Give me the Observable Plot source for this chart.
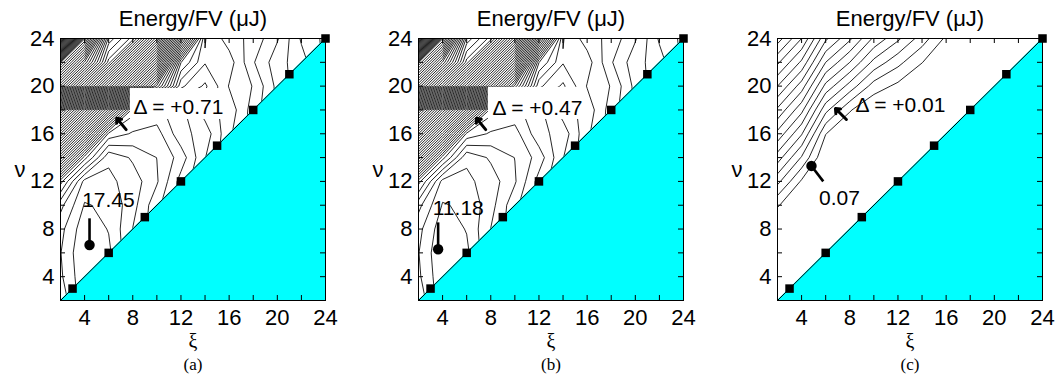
<!DOCTYPE html>
<html>
<head>
<meta charset="utf-8">
<script src="https://cdn.jsdelivr.net/npm/d3@7"></script>
<script src="https://cdn.jsdelivr.net/npm/@observablehq/plot@0.6"></script>
<style>
  body { margin: 0; background: #fff; }
  #wrap { position: relative; width: 1055px; height: 385px; overflow: hidden; background: #fff; }
</style>
</head>
<body>
<div id="wrap"></div>
<script>
// ---- data ----
const gridXi = [2, 4, 6, 8, 10, 12, 14, 16, 18, 20, 22, 24];   // grid columns (ξ)
const gridNu = [24, 22, 20, 18, 16, 14, 12, 10, 8, 6, 4, 2];   // grid rows (ν), top row first

// Energy/FV (μJ) estimated on the grid, panel (a)
const energyA = [
  81.6, 63, 52, 49.8, 43.2, 32.6, 23.8, 24.9, 25.5, 26.6, 28.2, 29.0,
  63, 56.4, 49.8, 43.2, 36.6, 26, 23.9, 24.2, 25.9, 27.1, 27.8, 29.0,
  56.4, 49.8, 43.2, 36.6, 30, 24, 23.0, 24.6, 25.3, 26.9, 27.9, 29.0,
  41.8, 35.2, 28.6, 22, 21.5, 22.2, 23.5, 24.1, 25.6, 26.8, 27.9, 29.0,
  35.2, 28.6, 21.5, 20.9, 20.7, 22.2, 22.7, 24.4, 25.6, 26.8, 27.9, 29.0,
  28.6, 22, 19.0, 19.7, 20.3, 21.3, 23.1, 24.4, 25.6, 26.8, 27.9, 29.0,
  22, 18.6, 18.7, 19.2, 20.2, 22.0, 23.1, 24.4, 25.6, 26.8, 27.9, 29.0,
  19.8, 18.1, 18.3, 19.3, 20.8, 22.0, 23.1, 24.4, 25.6, 26.8, 27.9, 29.0,
  19.1, 17.7, 18.2, 19.6, 20.8, 22.0, 23.1, 24.4, 25.6, 26.8, 27.9, 29.0,
  18.9, 17.5, 18.0, 19.6, 20.8, 22.0, 23.1, 24.4, 25.6, 26.8, 27.9, 29.0,
  19.0, 17.6, 18.0, 19.6, 20.8, 22.0, 23.1, 24.4, 25.6, 26.8, 27.9, 29.0,
  19.4, 17.6, 18.0, 19.6, 20.8, 22.0, 23.1, 24.4, 25.6, 26.8, 27.9, 29.0
];
// panel (b)
const energyB = [
  53.65, 41.33, 34.05, 32.60, 28.23, 21.21, 15.38, 16.11, 16.51, 17.24, 18.30, 18.83,
  41.33, 36.96, 32.60, 28.23, 23.86, 16.84, 15.45, 15.65, 16.77, 17.57, 18.03, 18.83,
  36.96, 32.60, 28.23, 23.86, 19.49, 15.52, 14.85, 15.91, 16.38, 17.44, 18.10, 18.83,
  27.30, 22.93, 18.56, 14.19, 13.86, 14.32, 15.19, 15.58, 16.58, 17.37, 18.10, 18.83,
  22.93, 18.56, 13.86, 13.46, 13.33, 14.32, 14.66, 15.78, 16.58, 17.37, 18.10, 18.83,
  18.56, 14.19, 12.21, 12.67, 13.07, 13.73, 14.92, 15.78, 16.58, 17.37, 18.10, 18.83,
  14.19, 11.94, 12.01, 12.34, 13.00, 14.19, 14.92, 15.78, 16.58, 17.37, 18.10, 18.83,
  12.74, 11.61, 11.74, 12.40, 13.40, 14.19, 14.92, 15.78, 16.58, 17.37, 18.10, 18.83,
  12.27, 11.35, 11.68, 12.60, 13.40, 14.19, 14.92, 15.78, 16.58, 17.37, 18.10, 18.83,
  12.14, 11.21, 11.54, 12.60, 13.40, 14.19, 14.92, 15.78, 16.58, 17.37, 18.10, 18.83,
  12.21, 11.28, 11.54, 12.60, 13.40, 14.19, 14.92, 15.78, 16.58, 17.37, 18.10, 18.83,
  12.47, 11.28, 11.54, 12.60, 13.40, 14.19, 14.92, 15.78, 16.58, 17.37, 18.10, 18.83
];
// panel (c)
const energyC = [
  0.235, 0.21, 0.172, 0.152, 0.128, 0.112, 0.095, 0.078, 0.07, 0.07, 0.07, 0.07,
  0.212, 0.188, 0.15, 0.13, 0.107, 0.093, 0.0803, 0.07, 0.07, 0.07, 0.07, 0.07,
  0.19, 0.165, 0.127, 0.106, 0.0854, 0.0775, 0.07, 0.07, 0.07, 0.07, 0.07, 0.07,
  0.168, 0.143, 0.103, 0.081, 0.07, 0.07, 0.07, 0.07, 0.07, 0.07, 0.07, 0.07,
  0.147, 0.121, 0.0803, 0.07, 0.07, 0.07, 0.07, 0.07, 0.07, 0.07, 0.07, 0.07,
  0.125, 0.099, 0.07, 0.07, 0.07, 0.07, 0.07, 0.07, 0.07, 0.07, 0.07, 0.07,
  0.103, 0.0785, 0.07, 0.07, 0.07, 0.07, 0.07, 0.07, 0.07, 0.07, 0.07, 0.07,
  0.081, 0.07, 0.07, 0.07, 0.07, 0.07, 0.07, 0.07, 0.07, 0.07, 0.07, 0.07,
  0.07, 0.07, 0.07, 0.07, 0.07, 0.07, 0.07, 0.07, 0.07, 0.07, 0.07, 0.07,
  0.07, 0.07, 0.07, 0.07, 0.07, 0.07, 0.07, 0.07, 0.07, 0.07, 0.07, 0.07,
  0.07, 0.07, 0.07, 0.07, 0.07, 0.07, 0.07, 0.07, 0.07, 0.07, 0.07, 0.07,
  0.07, 0.07, 0.07, 0.07, 0.07, 0.07, 0.07, 0.07, 0.07, 0.07, 0.07, 0.07
];

const panelNames = ["(a)", "(b)", "(c)"];
const deltas = [0.71, 0.47, 0.01];
const deltaLabels = ["Δ = +0.71", "Δ = +0.47", "Δ = +0.01"];
const minima = [17.45, 11.18, 0.07];
const minLabels = ["17.45", "11.18", "0.07"];
const minXi = [4.41, 3.63, 4.82];
const minNu = [6.66, 6.3, 13.3];
const diagonalMarkers = [3, 6, 9, 12, 15, 18, 21, 24];
const tickValues = [2, 4, 6, 8, 10, 12, 14, 16, 18, 20, 22, 24];
const tickLabels = [4, 8, 12, 16, 20, 24];
const axisBounds = [2, 24];
const title = "Energy/FV (μJ)";

// annotation placement (in data units)
const annot = [
  {stem: [4.41, 6.66, 4.41, 8.9], label: [5.98, 9.83], delta: [8.06, 17.7], arrow: [7.45, 16.35, 6.67, 17.3], box: [7.8, 15.8, 17.2, 19.8]},
  {stem: [3.63, 6.3, 3.63, 8.56], label: [5.3, 9.2], delta: [8.14, 17.6], arrow: [7.58, 16.35, 6.81, 17.3], box: [7.8, 15.8, 17.2, 19.9]},
  {stem: [4.82, 13.3, 5.8, 12.0], label: [7.15, 10.05], delta: [8.47, 17.85], arrow: [7.72, 17.2, 6.81, 18.12], box: null}
];

const energies = [energyA, energyB, energyC];
const lefts = [0, 358, 717];
const ML = 60, MR = 15, MT = 38, MB = 85, FW = 265, FH = 262;
const W = ML + FW + MR, H = MT + FH + MB;

const wrap = document.getElementById("wrap");
for (let i = 0; i < 3; i++) {
  const a = annot[i];
  const thresholds = d3.range(1, 160).map(k => minima[i] + k * deltas[i]);
  const marks = [
    Plot.contour(energies[i], {
      value: Plot.identity, width: gridXi.length, height: gridNu.length,
      x1: gridXi[0] - 1, x2: gridXi[gridXi.length - 1] + 1,
      y1: gridNu[0] + 1, y2: gridNu[gridNu.length - 1] - 1,
      thresholds, stroke: "black", strokeWidth: 0.85, fill: "none", clip: true
    })
  ];
  if (a.box) marks.push(Plot.rect([a.box], {x1: d => d[0], x2: d => d[1], y1: d => d[2], y2: d => d[3], fill: "white"}));
  marks.push(
    Plot.areaY(axisBounds, {x: d => d, y1: axisBounds[0], y2: d => d, fill: "#00ffff"}),
    Plot.line(axisBounds, {x: d => d, y: d => d, stroke: "black", strokeWidth: 1}),
    Plot.dot(diagonalMarkers, {x: d => d, y: d => d, symbol: "square", fill: "black", r: 4.8}),
    Plot.link([a.stem], {x1: d => d[0], y1: d => d[1], x2: d => d[2], y2: d => d[3], stroke: "black", strokeWidth: 2.6}),
    Plot.dot([i], {x: d => minXi[d], y: d => minNu[d], r: 5.2, fill: "black"}),
    Plot.text([minLabels[i]], {x: a.label[0], y: a.label[1], lineAnchor: "bottom", textAnchor: "middle", fontSize: 21}),
    Plot.text([deltaLabels[i]], {x: a.delta[0], y: a.delta[1], lineAnchor: "bottom", textAnchor: "start", fontSize: 21}),
    Plot.arrow([a.arrow], {x1: d => d[0], y1: d => d[1], x2: d => d[2], y2: d => d[3], stroke: "black", strokeWidth: 3, headLength: 8, headAngle: 80}),
    Plot.frame({stroke: "black", strokeWidth: 1}),
    Plot.tickX(tickValues, {x: d => d, insetTop: FH - 5, stroke: "black"}),
    Plot.tickX(tickValues, {x: d => d, insetBottom: FH - 5, stroke: "black"}),
    Plot.tickY(tickValues, {y: d => d, insetRight: FW - 5, stroke: "black"}),
    Plot.tickY(tickValues, {y: d => d, insetLeft: FW - 5, stroke: "black"}),
    Plot.axisX(tickLabels, {tickSize: 0, tickPadding: 9, fontSize: 22, label: null}),
    Plot.axisY(tickLabels, {tickSize: 0, tickPadding: 6, fontSize: 22, label: null}),
    Plot.text([title], {frameAnchor: "top", dy: -20, lineAnchor: "middle", fontSize: 22}),
    Plot.text(["ξ"], {frameAnchor: "bottom", dy: 41, lineAnchor: "middle", fontSize: 20, fontFamily: "Liberation Serif"}),
    Plot.text(["ν"], {frameAnchor: "left", dx: -46, lineAnchor: "middle", fontSize: 22}),
    Plot.text([panelNames[i]], {frameAnchor: "bottom", dy: 64, lineAnchor: "middle", fontSize: 17, fontFamily: "Liberation Serif"})
  );
  const svg = Plot.plot({
    width: W, height: H,
    marginLeft: ML, marginRight: MR, marginTop: MT, marginBottom: MB,
    x: {domain: axisBounds, label: null},
    y: {domain: axisBounds, label: null},
    style: {fontFamily: "Liberation Sans, Arial, sans-serif", fontSize: "22px", color: "black", background: "white", overflow: "visible"},
    marks
  });
  svg.style.position = "absolute";
  svg.style.left = lefts[i] + "px";
  svg.style.top = "0px";
  wrap.appendChild(svg);
}
</script>
</body>
</html>
